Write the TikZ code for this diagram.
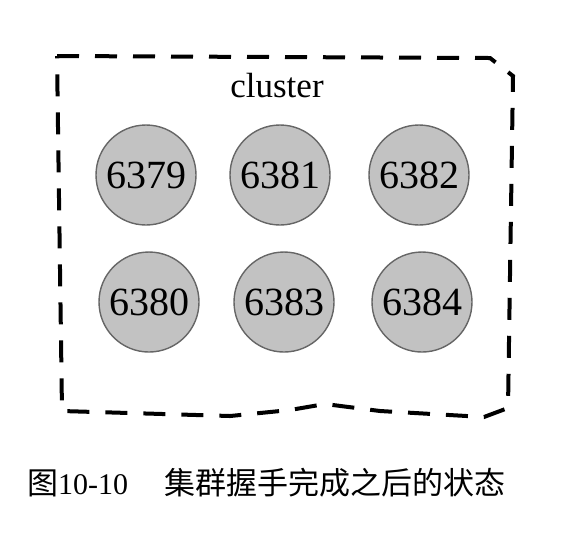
\documentclass[tikz,border=0pt]{standalone}
\usepackage{fontspec}
\setmainfont{Liberation Serif}
\newfontfamily\cjk{Noto Sans CJK SC}
\usetikzlibrary{positioning}

\begin{document}
\begin{tikzpicture}[
        x=0.5pt, y=-0.5pt,
        redis/.style={circle, draw=black!60, fill=black!24, line width=0.7pt, minimum size=50pt, inner sep=0pt, font=\fontsize{20}{20}\selectfont},
        border/.style={line width=2pt, dash pattern=on 11pt off 8pt, line join=miter},
        lbl/.style={font=\fontsize{17.5}{17.5}\selectfont}
    ]
    \useasboundingbox (0,0) rectangle (588,532);

    % ==========================================
    % cluster nodes
    % ==========================================
    \node[redis] (n6379) at (146,175) {6379};
    \node[redis] (n6381) at (280,175) {6381};
    \node[redis] (n6382) at (419,175) {6382};

    \node[redis] (n6380) at (149,302) {6380};
    \node[redis] (n6383) at (284,302) {6383};
    \node[redis] (n6384) at (422,302) {6384};

    \node[lbl] (clusterlbl) at (277,86) {cluster};

    % ==========================================
    % dashed cluster border
    % ==========================================
    \draw[border] (57,56) -- (490,58) -- (513,76) -- (508,408) -- (484,417)
        -- (380,411) -- (325,404) -- (290,410) -- (230,416) -- (62,411) -- cycle;

    % caption
    \node[anchor=west, font=\fontsize{15.5}{15.5}\selectfont] (caption) at (20,483)
        {{\cjk 图}{\fontsize{15}{15}\selectfont 10-10}\hspace{18pt}{\cjk 集群握手完成之后的状态}};

\end{tikzpicture}
\end{document}
